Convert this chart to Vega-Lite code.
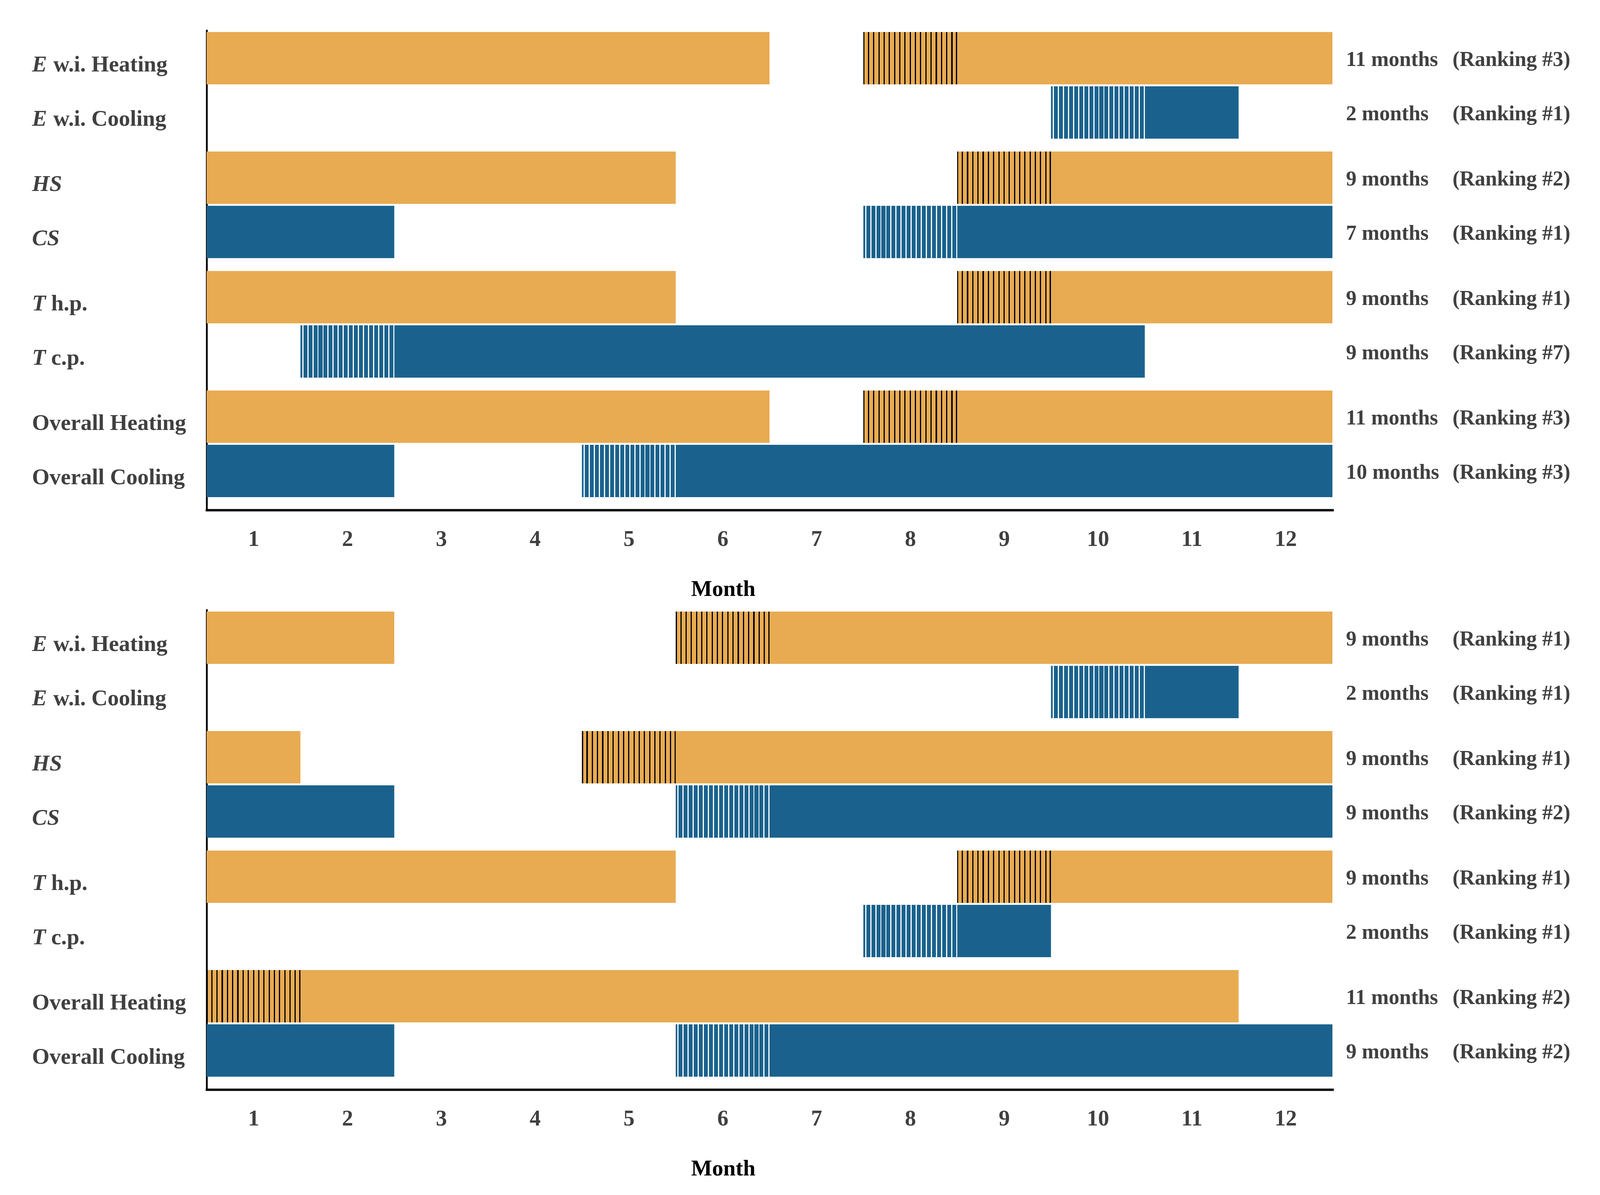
{
  "$schema": "https://vega.github.io/schema/vega-lite/v6.json",
  "padding": {"left": 82, "top": 78, "right": 0, "bottom": 0},
  "bounds": "flush",
  "spacing": 256,
  "config": {"view": {"stroke": null}, "font": "Liberation Serif"},
  "data": {"values": [
    {"type":"seg","panel":"a","row":"E","kind":"Heating","start":0.5,"end":6.5,"hatch":false},
    {"type":"seg","panel":"a","row":"E","kind":"Heating","start":7.5,"end":8.5,"hatch":true},
    {"type":"seg","panel":"a","row":"E","kind":"Heating","start":8.5,"end":12.5,"hatch":false},
    {"type":"seg","panel":"a","row":"E","kind":"Cooling","start":9.5,"end":10.5,"hatch":true},
    {"type":"seg","panel":"a","row":"E","kind":"Cooling","start":10.5,"end":11.5,"hatch":false},
    {"type":"seg","panel":"a","row":"S","kind":"Heating","start":0.5,"end":5.5,"hatch":false},
    {"type":"seg","panel":"a","row":"S","kind":"Heating","start":8.5,"end":9.5,"hatch":true},
    {"type":"seg","panel":"a","row":"S","kind":"Heating","start":9.5,"end":12.5,"hatch":false},
    {"type":"seg","panel":"a","row":"S","kind":"Cooling","start":0.5,"end":2.5,"hatch":false},
    {"type":"seg","panel":"a","row":"S","kind":"Cooling","start":7.5,"end":8.5,"hatch":true},
    {"type":"seg","panel":"a","row":"S","kind":"Cooling","start":8.5,"end":12.5,"hatch":false},
    {"type":"seg","panel":"a","row":"T","kind":"Heating","start":0.5,"end":5.5,"hatch":false},
    {"type":"seg","panel":"a","row":"T","kind":"Heating","start":8.5,"end":9.5,"hatch":true},
    {"type":"seg","panel":"a","row":"T","kind":"Heating","start":9.5,"end":12.5,"hatch":false},
    {"type":"seg","panel":"a","row":"T","kind":"Cooling","start":1.5,"end":2.5,"hatch":true},
    {"type":"seg","panel":"a","row":"T","kind":"Cooling","start":2.5,"end":10.5,"hatch":false},
    {"type":"seg","panel":"a","row":"O","kind":"Heating","start":0.5,"end":6.5,"hatch":false},
    {"type":"seg","panel":"a","row":"O","kind":"Heating","start":7.5,"end":8.5,"hatch":true},
    {"type":"seg","panel":"a","row":"O","kind":"Heating","start":8.5,"end":12.5,"hatch":false},
    {"type":"seg","panel":"a","row":"O","kind":"Cooling","start":0.5,"end":2.5,"hatch":false},
    {"type":"seg","panel":"a","row":"O","kind":"Cooling","start":4.5,"end":5.5,"hatch":true},
    {"type":"seg","panel":"a","row":"O","kind":"Cooling","start":5.5,"end":12.5,"hatch":false},
    {"type":"seg","panel":"b","row":"E","kind":"Heating","start":0.5,"end":2.5,"hatch":false},
    {"type":"seg","panel":"b","row":"E","kind":"Heating","start":5.5,"end":6.5,"hatch":true},
    {"type":"seg","panel":"b","row":"E","kind":"Heating","start":6.5,"end":12.5,"hatch":false},
    {"type":"seg","panel":"b","row":"E","kind":"Cooling","start":9.5,"end":10.5,"hatch":true},
    {"type":"seg","panel":"b","row":"E","kind":"Cooling","start":10.5,"end":11.5,"hatch":false},
    {"type":"seg","panel":"b","row":"S","kind":"Heating","start":0.5,"end":1.5,"hatch":false},
    {"type":"seg","panel":"b","row":"S","kind":"Heating","start":4.5,"end":5.5,"hatch":true},
    {"type":"seg","panel":"b","row":"S","kind":"Heating","start":5.5,"end":12.5,"hatch":false},
    {"type":"seg","panel":"b","row":"S","kind":"Cooling","start":0.5,"end":2.5,"hatch":false},
    {"type":"seg","panel":"b","row":"S","kind":"Cooling","start":5.5,"end":6.5,"hatch":true},
    {"type":"seg","panel":"b","row":"S","kind":"Cooling","start":6.5,"end":12.5,"hatch":false},
    {"type":"seg","panel":"b","row":"T","kind":"Heating","start":0.5,"end":5.5,"hatch":false},
    {"type":"seg","panel":"b","row":"T","kind":"Heating","start":8.5,"end":9.5,"hatch":true},
    {"type":"seg","panel":"b","row":"T","kind":"Heating","start":9.5,"end":12.5,"hatch":false},
    {"type":"seg","panel":"b","row":"T","kind":"Cooling","start":7.5,"end":8.5,"hatch":true},
    {"type":"seg","panel":"b","row":"T","kind":"Cooling","start":8.5,"end":9.5,"hatch":false},
    {"type":"seg","panel":"b","row":"O","kind":"Heating","start":0.5,"end":1.5,"hatch":true},
    {"type":"seg","panel":"b","row":"O","kind":"Heating","start":1.5,"end":11.5,"hatch":false},
    {"type":"seg","panel":"b","row":"O","kind":"Cooling","start":0.5,"end":2.5,"hatch":false},
    {"type":"seg","panel":"b","row":"O","kind":"Cooling","start":5.5,"end":6.5,"hatch":true},
    {"type":"seg","panel":"b","row":"O","kind":"Cooling","start":6.5,"end":12.5,"hatch":false},
    {"type":"lab","panel":"a","row":"E","kind":"Heating","prefix":"E","rest":"w.i. Heating","months":"11 months","ranking":"(Ranking #3)"},
    {"type":"lab","panel":"a","row":"E","kind":"Cooling","prefix":"E","rest":"w.i. Cooling","months":"2 months","ranking":"(Ranking #1)"},
    {"type":"lab","panel":"a","row":"S","kind":"Heating","prefix":"HS","rest":"","months":"9 months","ranking":"(Ranking #2)"},
    {"type":"lab","panel":"a","row":"S","kind":"Cooling","prefix":"CS","rest":"","months":"7 months","ranking":"(Ranking #1)"},
    {"type":"lab","panel":"a","row":"T","kind":"Heating","prefix":"T","rest":"h.p.","months":"9 months","ranking":"(Ranking #1)"},
    {"type":"lab","panel":"a","row":"T","kind":"Cooling","prefix":"T","rest":"c.p.","months":"9 months","ranking":"(Ranking #7)"},
    {"type":"lab","panel":"a","row":"O","kind":"Heating","prefix":"","rest":"Overall Heating","months":"11 months","ranking":"(Ranking #3)"},
    {"type":"lab","panel":"a","row":"O","kind":"Cooling","prefix":"","rest":"Overall Cooling","months":"10 months","ranking":"(Ranking #3)"},
    {"type":"lab","panel":"b","row":"E","kind":"Heating","prefix":"E","rest":"w.i. Heating","months":"9 months","ranking":"(Ranking #1)"},
    {"type":"lab","panel":"b","row":"E","kind":"Cooling","prefix":"E","rest":"w.i. Cooling","months":"2 months","ranking":"(Ranking #1)"},
    {"type":"lab","panel":"b","row":"S","kind":"Heating","prefix":"HS","rest":"","months":"9 months","ranking":"(Ranking #1)"},
    {"type":"lab","panel":"b","row":"S","kind":"Cooling","prefix":"CS","rest":"","months":"9 months","ranking":"(Ranking #2)"},
    {"type":"lab","panel":"b","row":"T","kind":"Heating","prefix":"T","rest":"h.p.","months":"9 months","ranking":"(Ranking #1)"},
    {"type":"lab","panel":"b","row":"T","kind":"Cooling","prefix":"T","rest":"c.p.","months":"2 months","ranking":"(Ranking #1)"},
    {"type":"lab","panel":"b","row":"O","kind":"Heating","prefix":"","rest":"Overall Heating","months":"11 months","ranking":"(Ranking #2)"},
    {"type":"lab","panel":"b","row":"O","kind":"Cooling","prefix":"","rest":"Overall Cooling","months":"9 months","ranking":"(Ranking #2)"}
  ]},
  "vconcat": [
    {
      "width": 2882, "height": 1228,
      "transform": [{"filter": "datum.panel == 'a'"}],
      "encoding": {
        "y": {"field": "row", "type": "nominal", "scale": {"domain": ["E","S","T","O"], "paddingInner": 0.1078, "paddingOuter": 0.0605, "align": 0.108},
              "axis": {"labels": false, "ticks": false, "title": null, "grid": false, "domainColor": "#000000", "domainWidth": 4.5, "domainCap": "square"}},
        "yOffset": {"field": "kind", "type": "nominal", "scale": {"domain": ["Heating","Cooling"], "paddingInner": 0.036, "paddingOuter": 0}}
      },
      "layer": [
        {"transform": [{"filter": "datum.type == 'seg' && !datum.hatch"}],
         "mark": {"type": "bar", "strokeWidth": 0},
         "encoding": {
           "x": {"field": "start", "type": "quantitative", "scale": {"domain": [0.5, 12.5], "nice": false, "zero": false},
                 "axis": {"values": [1,2,3,4,5,6,7,8,9,10,11,12], "format": "d", "title": "Month", "grid": false, "ticks": false, "tickSize": 0, "labelPadding": 46, "labelFontSize": 57, "labelFont": "Liberation Serif", "labelFontWeight": "bold", "labelColor": "#404040", "labelFlush": false, "labelOverlap": false, "domainColor": "#000000", "domainWidth": 6, "domainCap": "square", "titleFont": "Liberation Serif", "titleFontSize": 57, "titleFontWeight": "bold", "titleColor": "#000000", "titleX": 1322, "titleY": 202, "titleBaseline": "middle", "titleAlign": "center"}},
           "x2": {"field": "end"},
           "color": {"field": "kind", "type": "nominal", "scale": {"domain": ["Heating","Cooling"], "range": ["#E8AB52","#1A628D"]}, "legend": null}
         }},
        {"transform": [{"filter": "datum.type == 'seg' && datum.hatch && datum.kind == 'Heating'"}],
         "mark": {"type": "bar", "strokeWidth": 0, "fill": {"gradient": "linear", "x1": 0, "x2": 1, "y1": 0, "y2": 0, "stops": [
           {"offset":0,"color":"#000000"},{"offset":0.013,"color":"#000000"},{"offset":0.013,"color":"#E8AB52"},
           {"offset":0.0491,"color":"#E8AB52"},{"offset":0.0491,"color":"#000000"},{"offset":0.0621,"color":"#000000"},{"offset":0.0621,"color":"#E8AB52"},
           {"offset":0.1046,"color":"#E8AB52"},{"offset":0.1046,"color":"#000000"},{"offset":0.1176,"color":"#000000"},{"offset":0.1176,"color":"#E8AB52"},
           {"offset":0.1602,"color":"#E8AB52"},{"offset":0.1602,"color":"#000000"},{"offset":0.1732,"color":"#000000"},{"offset":0.1732,"color":"#E8AB52"},
           {"offset":0.2157,"color":"#E8AB52"},{"offset":0.2157,"color":"#000000"},{"offset":0.2287,"color":"#000000"},{"offset":0.2287,"color":"#E8AB52"},
           {"offset":0.2713,"color":"#E8AB52"},{"offset":0.2713,"color":"#000000"},{"offset":0.2843,"color":"#000000"},{"offset":0.2843,"color":"#E8AB52"},
           {"offset":0.3268,"color":"#E8AB52"},{"offset":0.3268,"color":"#000000"},{"offset":0.3398,"color":"#000000"},{"offset":0.3398,"color":"#E8AB52"},
           {"offset":0.3824,"color":"#E8AB52"},{"offset":0.3824,"color":"#000000"},{"offset":0.3954,"color":"#000000"},{"offset":0.3954,"color":"#E8AB52"},
           {"offset":0.4379,"color":"#E8AB52"},{"offset":0.4379,"color":"#000000"},{"offset":0.4509,"color":"#000000"},{"offset":0.4509,"color":"#E8AB52"},
           {"offset":0.4935,"color":"#E8AB52"},{"offset":0.4935,"color":"#000000"},{"offset":0.5065,"color":"#000000"},{"offset":0.5065,"color":"#E8AB52"},
           {"offset":0.5491,"color":"#E8AB52"},{"offset":0.5491,"color":"#000000"},{"offset":0.5621,"color":"#000000"},{"offset":0.5621,"color":"#E8AB52"},
           {"offset":0.6046,"color":"#E8AB52"},{"offset":0.6046,"color":"#000000"},{"offset":0.6176,"color":"#000000"},{"offset":0.6176,"color":"#E8AB52"},
           {"offset":0.6602,"color":"#E8AB52"},{"offset":0.6602,"color":"#000000"},{"offset":0.6732,"color":"#000000"},{"offset":0.6732,"color":"#E8AB52"},
           {"offset":0.7157,"color":"#E8AB52"},{"offset":0.7157,"color":"#000000"},{"offset":0.7287,"color":"#000000"},{"offset":0.7287,"color":"#E8AB52"},
           {"offset":0.7713,"color":"#E8AB52"},{"offset":0.7713,"color":"#000000"},{"offset":0.7843,"color":"#000000"},{"offset":0.7843,"color":"#E8AB52"},
           {"offset":0.8268,"color":"#E8AB52"},{"offset":0.8268,"color":"#000000"},{"offset":0.8398,"color":"#000000"},{"offset":0.8398,"color":"#E8AB52"},
           {"offset":0.8824,"color":"#E8AB52"},{"offset":0.8824,"color":"#000000"},{"offset":0.8954,"color":"#000000"},{"offset":0.8954,"color":"#E8AB52"},
           {"offset":0.9379,"color":"#E8AB52"},{"offset":0.9379,"color":"#000000"},{"offset":0.9509,"color":"#000000"},{"offset":0.9509,"color":"#E8AB52"},
           {"offset":0.987,"color":"#E8AB52"},{"offset":0.987,"color":"#000000"},{"offset":1,"color":"#000000"}]}},
         "encoding": {"x": {"field": "start", "type": "quantitative"}, "x2": {"field": "end"}}},
        {"transform": [{"filter": "datum.type == 'seg' && datum.hatch && datum.kind == 'Cooling'"}],
         "mark": {"type": "bar", "strokeWidth": 0, "fill": {"gradient": "linear", "x1": 0, "x2": 1, "y1": 0, "y2": 0, "stops": [
           {"offset":0,"color":"#1A628D"},
           {"offset":0.019,"color":"#1A628D"},{"offset":0.019,"color":"#FFFFFF"},{"offset":0.031,"color":"#FFFFFF"},{"offset":0.031,"color":"#1A628D"},
           {"offset":0.0729,"color":"#1A628D"},{"offset":0.0729,"color":"#FFFFFF"},{"offset":0.0849,"color":"#FFFFFF"},{"offset":0.0849,"color":"#1A628D"},
           {"offset":0.1268,"color":"#1A628D"},{"offset":0.1268,"color":"#FFFFFF"},{"offset":0.1388,"color":"#FFFFFF"},{"offset":0.1388,"color":"#1A628D"},
           {"offset":0.1807,"color":"#1A628D"},{"offset":0.1807,"color":"#FFFFFF"},{"offset":0.1927,"color":"#FFFFFF"},{"offset":0.1927,"color":"#1A628D"},
           {"offset":0.2346,"color":"#1A628D"},{"offset":0.2346,"color":"#FFFFFF"},{"offset":0.2466,"color":"#FFFFFF"},{"offset":0.2466,"color":"#1A628D"},
           {"offset":0.2885,"color":"#1A628D"},{"offset":0.2885,"color":"#FFFFFF"},{"offset":0.3005,"color":"#FFFFFF"},{"offset":0.3005,"color":"#1A628D"},
           {"offset":0.3424,"color":"#1A628D"},{"offset":0.3424,"color":"#FFFFFF"},{"offset":0.3544,"color":"#FFFFFF"},{"offset":0.3544,"color":"#1A628D"},
           {"offset":0.3963,"color":"#1A628D"},{"offset":0.3963,"color":"#FFFFFF"},{"offset":0.4083,"color":"#FFFFFF"},{"offset":0.4083,"color":"#1A628D"},
           {"offset":0.4502,"color":"#1A628D"},{"offset":0.4502,"color":"#FFFFFF"},{"offset":0.4622,"color":"#FFFFFF"},{"offset":0.4622,"color":"#1A628D"},
           {"offset":0.5041,"color":"#1A628D"},{"offset":0.5041,"color":"#FFFFFF"},{"offset":0.5161,"color":"#FFFFFF"},{"offset":0.5161,"color":"#1A628D"},
           {"offset":0.558,"color":"#1A628D"},{"offset":0.558,"color":"#FFFFFF"},{"offset":0.57,"color":"#FFFFFF"},{"offset":0.57,"color":"#1A628D"},
           {"offset":0.6119,"color":"#1A628D"},{"offset":0.6119,"color":"#FFFFFF"},{"offset":0.6239,"color":"#FFFFFF"},{"offset":0.6239,"color":"#1A628D"},
           {"offset":0.6658,"color":"#1A628D"},{"offset":0.6658,"color":"#FFFFFF"},{"offset":0.6778,"color":"#FFFFFF"},{"offset":0.6778,"color":"#1A628D"},
           {"offset":0.7197,"color":"#1A628D"},{"offset":0.7197,"color":"#FFFFFF"},{"offset":0.7317,"color":"#FFFFFF"},{"offset":0.7317,"color":"#1A628D"},
           {"offset":0.7736,"color":"#1A628D"},{"offset":0.7736,"color":"#FFFFFF"},{"offset":0.7856,"color":"#FFFFFF"},{"offset":0.7856,"color":"#1A628D"},
           {"offset":0.8275,"color":"#1A628D"},{"offset":0.8275,"color":"#FFFFFF"},{"offset":0.8395,"color":"#FFFFFF"},{"offset":0.8395,"color":"#1A628D"},
           {"offset":0.8814,"color":"#1A628D"},{"offset":0.8814,"color":"#FFFFFF"},{"offset":0.8934,"color":"#FFFFFF"},{"offset":0.8934,"color":"#1A628D"},
           {"offset":0.9353,"color":"#1A628D"},{"offset":0.9353,"color":"#FFFFFF"},{"offset":0.9473,"color":"#FFFFFF"},{"offset":0.9473,"color":"#1A628D"},
           {"offset":0.9892,"color":"#1A628D"},{"offset":0.9892,"color":"#FFFFFF"},{"offset":1,"color":"#FFFFFF"}]}},
         "encoding": {"x": {"field": "start", "type": "quantitative"}, "x2": {"field": "end"}}},
        {"transform": [{"filter": "datum.type == 'lab' && datum.prefix != ''"}],
         "mark": {"type": "text", "align": "left", "baseline": "middle", "dy": 17, "fontSize": 57.5, "fontWeight": "bold", "fontStyle": "italic", "font": "Liberation Serif", "color": "#404040"},
         "encoding": {"x": {"datum": -1.361}, "text": {"field": "prefix"}}},
        {"transform": [{"filter": "datum.type == 'lab' && datum.prefix == ''"}],
         "mark": {"type": "text", "align": "left", "baseline": "middle", "dy": 17, "fontSize": 57.5, "fontWeight": "bold", "font": "Liberation Serif", "color": "#404040"},
         "encoding": {"x": {"datum": -1.361}, "text": {"field": "rest"}}},
        {"transform": [{"filter": "datum.type == 'lab' && datum.prefix == 'E'"}],
         "mark": {"type": "text", "align": "left", "baseline": "middle", "dy": 17, "dx": 54.5, "fontSize": 57.5, "fontWeight": "bold", "font": "Liberation Serif", "color": "#404040"},
         "encoding": {"x": {"datum": -1.361}, "text": {"field": "rest"}}},
        {"transform": [{"filter": "datum.type == 'lab' && datum.prefix == 'T'"}],
         "mark": {"type": "text", "align": "left", "baseline": "middle", "dy": 17, "dx": 49, "fontSize": 57.5, "fontWeight": "bold", "font": "Liberation Serif", "color": "#404040"},
         "encoding": {"x": {"datum": -1.361}, "text": {"field": "rest"}}},
        {"transform": [{"filter": "datum.type == 'lab'"}],
         "mark": {"type": "text", "align": "left", "baseline": "middle", "dy": 4, "fontSize": 54, "fontWeight": "bold", "font": "Liberation Serif", "color": "#404040"},
         "encoding": {"x": {"datum": 12.645}, "text": {"field": "months"}}},
        {"transform": [{"filter": "datum.type == 'lab'"}],
         "mark": {"type": "text", "align": "left", "baseline": "middle", "dy": 4, "fontSize": 54, "fontWeight": "bold", "font": "Liberation Serif", "color": "#404040"},
         "encoding": {"x": {"datum": 13.78}, "text": {"field": "ranking"}}}
      ]
    },
    {
      "width": 2882, "height": 1228,
      "transform": [{"filter": "datum.panel == 'b'"}],
      "encoding": {
        "y": {"field": "row", "type": "nominal", "scale": {"domain": ["E","S","T","O"], "paddingInner": 0.1078, "paddingOuter": 0.0605, "align": 0.108},
              "axis": {"labels": false, "ticks": false, "title": null, "grid": false, "domainColor": "#000000", "domainWidth": 4.5, "domainCap": "square"}},
        "yOffset": {"field": "kind", "type": "nominal", "scale": {"domain": ["Heating","Cooling"], "paddingInner": 0.036, "paddingOuter": 0}}
      },
      "layer": [
        {"transform": [{"filter": "datum.type == 'seg' && !datum.hatch"}],
         "mark": {"type": "bar", "strokeWidth": 0},
         "encoding": {
           "x": {"field": "start", "type": "quantitative", "scale": {"domain": [0.5, 12.5], "nice": false, "zero": false},
                 "axis": {"values": [1,2,3,4,5,6,7,8,9,10,11,12], "format": "d", "title": "Month", "grid": false, "ticks": false, "tickSize": 0, "labelPadding": 46, "labelFontSize": 57, "labelFont": "Liberation Serif", "labelFontWeight": "bold", "labelColor": "#404040", "labelFlush": false, "labelOverlap": false, "domainColor": "#000000", "domainWidth": 6, "domainCap": "square", "titleFont": "Liberation Serif", "titleFontSize": 57, "titleFontWeight": "bold", "titleColor": "#000000", "titleX": 1322, "titleY": 202, "titleBaseline": "middle", "titleAlign": "center"}},
           "x2": {"field": "end"},
           "color": {"field": "kind", "type": "nominal", "scale": {"domain": ["Heating","Cooling"], "range": ["#E8AB52","#1A628D"]}, "legend": null}
         }},
        {"transform": [{"filter": "datum.type == 'seg' && datum.hatch && datum.kind == 'Heating'"}],
         "mark": {"type": "bar", "strokeWidth": 0, "fill": {"gradient": "linear", "x1": 0, "x2": 1, "y1": 0, "y2": 0, "stops": [
           {"offset":0,"color":"#000000"},{"offset":0.013,"color":"#000000"},{"offset":0.013,"color":"#E8AB52"},
           {"offset":0.0491,"color":"#E8AB52"},{"offset":0.0491,"color":"#000000"},{"offset":0.0621,"color":"#000000"},{"offset":0.0621,"color":"#E8AB52"},
           {"offset":0.1046,"color":"#E8AB52"},{"offset":0.1046,"color":"#000000"},{"offset":0.1176,"color":"#000000"},{"offset":0.1176,"color":"#E8AB52"},
           {"offset":0.1602,"color":"#E8AB52"},{"offset":0.1602,"color":"#000000"},{"offset":0.1732,"color":"#000000"},{"offset":0.1732,"color":"#E8AB52"},
           {"offset":0.2157,"color":"#E8AB52"},{"offset":0.2157,"color":"#000000"},{"offset":0.2287,"color":"#000000"},{"offset":0.2287,"color":"#E8AB52"},
           {"offset":0.2713,"color":"#E8AB52"},{"offset":0.2713,"color":"#000000"},{"offset":0.2843,"color":"#000000"},{"offset":0.2843,"color":"#E8AB52"},
           {"offset":0.3268,"color":"#E8AB52"},{"offset":0.3268,"color":"#000000"},{"offset":0.3398,"color":"#000000"},{"offset":0.3398,"color":"#E8AB52"},
           {"offset":0.3824,"color":"#E8AB52"},{"offset":0.3824,"color":"#000000"},{"offset":0.3954,"color":"#000000"},{"offset":0.3954,"color":"#E8AB52"},
           {"offset":0.4379,"color":"#E8AB52"},{"offset":0.4379,"color":"#000000"},{"offset":0.4509,"color":"#000000"},{"offset":0.4509,"color":"#E8AB52"},
           {"offset":0.4935,"color":"#E8AB52"},{"offset":0.4935,"color":"#000000"},{"offset":0.5065,"color":"#000000"},{"offset":0.5065,"color":"#E8AB52"},
           {"offset":0.5491,"color":"#E8AB52"},{"offset":0.5491,"color":"#000000"},{"offset":0.5621,"color":"#000000"},{"offset":0.5621,"color":"#E8AB52"},
           {"offset":0.6046,"color":"#E8AB52"},{"offset":0.6046,"color":"#000000"},{"offset":0.6176,"color":"#000000"},{"offset":0.6176,"color":"#E8AB52"},
           {"offset":0.6602,"color":"#E8AB52"},{"offset":0.6602,"color":"#000000"},{"offset":0.6732,"color":"#000000"},{"offset":0.6732,"color":"#E8AB52"},
           {"offset":0.7157,"color":"#E8AB52"},{"offset":0.7157,"color":"#000000"},{"offset":0.7287,"color":"#000000"},{"offset":0.7287,"color":"#E8AB52"},
           {"offset":0.7713,"color":"#E8AB52"},{"offset":0.7713,"color":"#000000"},{"offset":0.7843,"color":"#000000"},{"offset":0.7843,"color":"#E8AB52"},
           {"offset":0.8268,"color":"#E8AB52"},{"offset":0.8268,"color":"#000000"},{"offset":0.8398,"color":"#000000"},{"offset":0.8398,"color":"#E8AB52"},
           {"offset":0.8824,"color":"#E8AB52"},{"offset":0.8824,"color":"#000000"},{"offset":0.8954,"color":"#000000"},{"offset":0.8954,"color":"#E8AB52"},
           {"offset":0.9379,"color":"#E8AB52"},{"offset":0.9379,"color":"#000000"},{"offset":0.9509,"color":"#000000"},{"offset":0.9509,"color":"#E8AB52"},
           {"offset":0.987,"color":"#E8AB52"},{"offset":0.987,"color":"#000000"},{"offset":1,"color":"#000000"}]}},
         "encoding": {"x": {"field": "start", "type": "quantitative"}, "x2": {"field": "end"}}},
        {"transform": [{"filter": "datum.type == 'seg' && datum.hatch && datum.kind == 'Cooling'"}],
         "mark": {"type": "bar", "strokeWidth": 0, "fill": {"gradient": "linear", "x1": 0, "x2": 1, "y1": 0, "y2": 0, "stops": [
           {"offset":0,"color":"#1A628D"},
           {"offset":0.019,"color":"#1A628D"},{"offset":0.019,"color":"#FFFFFF"},{"offset":0.031,"color":"#FFFFFF"},{"offset":0.031,"color":"#1A628D"},
           {"offset":0.0729,"color":"#1A628D"},{"offset":0.0729,"color":"#FFFFFF"},{"offset":0.0849,"color":"#FFFFFF"},{"offset":0.0849,"color":"#1A628D"},
           {"offset":0.1268,"color":"#1A628D"},{"offset":0.1268,"color":"#FFFFFF"},{"offset":0.1388,"color":"#FFFFFF"},{"offset":0.1388,"color":"#1A628D"},
           {"offset":0.1807,"color":"#1A628D"},{"offset":0.1807,"color":"#FFFFFF"},{"offset":0.1927,"color":"#FFFFFF"},{"offset":0.1927,"color":"#1A628D"},
           {"offset":0.2346,"color":"#1A628D"},{"offset":0.2346,"color":"#FFFFFF"},{"offset":0.2466,"color":"#FFFFFF"},{"offset":0.2466,"color":"#1A628D"},
           {"offset":0.2885,"color":"#1A628D"},{"offset":0.2885,"color":"#FFFFFF"},{"offset":0.3005,"color":"#FFFFFF"},{"offset":0.3005,"color":"#1A628D"},
           {"offset":0.3424,"color":"#1A628D"},{"offset":0.3424,"color":"#FFFFFF"},{"offset":0.3544,"color":"#FFFFFF"},{"offset":0.3544,"color":"#1A628D"},
           {"offset":0.3963,"color":"#1A628D"},{"offset":0.3963,"color":"#FFFFFF"},{"offset":0.4083,"color":"#FFFFFF"},{"offset":0.4083,"color":"#1A628D"},
           {"offset":0.4502,"color":"#1A628D"},{"offset":0.4502,"color":"#FFFFFF"},{"offset":0.4622,"color":"#FFFFFF"},{"offset":0.4622,"color":"#1A628D"},
           {"offset":0.5041,"color":"#1A628D"},{"offset":0.5041,"color":"#FFFFFF"},{"offset":0.5161,"color":"#FFFFFF"},{"offset":0.5161,"color":"#1A628D"},
           {"offset":0.558,"color":"#1A628D"},{"offset":0.558,"color":"#FFFFFF"},{"offset":0.57,"color":"#FFFFFF"},{"offset":0.57,"color":"#1A628D"},
           {"offset":0.6119,"color":"#1A628D"},{"offset":0.6119,"color":"#FFFFFF"},{"offset":0.6239,"color":"#FFFFFF"},{"offset":0.6239,"color":"#1A628D"},
           {"offset":0.6658,"color":"#1A628D"},{"offset":0.6658,"color":"#FFFFFF"},{"offset":0.6778,"color":"#FFFFFF"},{"offset":0.6778,"color":"#1A628D"},
           {"offset":0.7197,"color":"#1A628D"},{"offset":0.7197,"color":"#FFFFFF"},{"offset":0.7317,"color":"#FFFFFF"},{"offset":0.7317,"color":"#1A628D"},
           {"offset":0.7736,"color":"#1A628D"},{"offset":0.7736,"color":"#FFFFFF"},{"offset":0.7856,"color":"#FFFFFF"},{"offset":0.7856,"color":"#1A628D"},
           {"offset":0.8275,"color":"#1A628D"},{"offset":0.8275,"color":"#FFFFFF"},{"offset":0.8395,"color":"#FFFFFF"},{"offset":0.8395,"color":"#1A628D"},
           {"offset":0.8814,"color":"#1A628D"},{"offset":0.8814,"color":"#FFFFFF"},{"offset":0.8934,"color":"#FFFFFF"},{"offset":0.8934,"color":"#1A628D"},
           {"offset":0.9353,"color":"#1A628D"},{"offset":0.9353,"color":"#FFFFFF"},{"offset":0.9473,"color":"#FFFFFF"},{"offset":0.9473,"color":"#1A628D"},
           {"offset":0.9892,"color":"#1A628D"},{"offset":0.9892,"color":"#FFFFFF"},{"offset":1,"color":"#FFFFFF"}]}},
         "encoding": {"x": {"field": "start", "type": "quantitative"}, "x2": {"field": "end"}}},
        {"transform": [{"filter": "datum.type == 'lab' && datum.prefix != ''"}],
         "mark": {"type": "text", "align": "left", "baseline": "middle", "dy": 17, "fontSize": 57.5, "fontWeight": "bold", "fontStyle": "italic", "font": "Liberation Serif", "color": "#404040"},
         "encoding": {"x": {"datum": -1.361}, "text": {"field": "prefix"}}},
        {"transform": [{"filter": "datum.type == 'lab' && datum.prefix == ''"}],
         "mark": {"type": "text", "align": "left", "baseline": "middle", "dy": 17, "fontSize": 57.5, "fontWeight": "bold", "font": "Liberation Serif", "color": "#404040"},
         "encoding": {"x": {"datum": -1.361}, "text": {"field": "rest"}}},
        {"transform": [{"filter": "datum.type == 'lab' && datum.prefix == 'E'"}],
         "mark": {"type": "text", "align": "left", "baseline": "middle", "dy": 17, "dx": 54.5, "fontSize": 57.5, "fontWeight": "bold", "font": "Liberation Serif", "color": "#404040"},
         "encoding": {"x": {"datum": -1.361}, "text": {"field": "rest"}}},
        {"transform": [{"filter": "datum.type == 'lab' && datum.prefix == 'T'"}],
         "mark": {"type": "text", "align": "left", "baseline": "middle", "dy": 17, "dx": 49, "fontSize": 57.5, "fontWeight": "bold", "font": "Liberation Serif", "color": "#404040"},
         "encoding": {"x": {"datum": -1.361}, "text": {"field": "rest"}}},
        {"transform": [{"filter": "datum.type == 'lab'"}],
         "mark": {"type": "text", "align": "left", "baseline": "middle", "dy": 4, "fontSize": 54, "fontWeight": "bold", "font": "Liberation Serif", "color": "#404040"},
         "encoding": {"x": {"datum": 12.645}, "text": {"field": "months"}}},
        {"transform": [{"filter": "datum.type == 'lab'"}],
         "mark": {"type": "text", "align": "left", "baseline": "middle", "dy": 4, "fontSize": 54, "fontWeight": "bold", "font": "Liberation Serif", "color": "#404040"},
         "encoding": {"x": {"datum": 13.78}, "text": {"field": "ranking"}}}
      ]
    }
  ]
}
